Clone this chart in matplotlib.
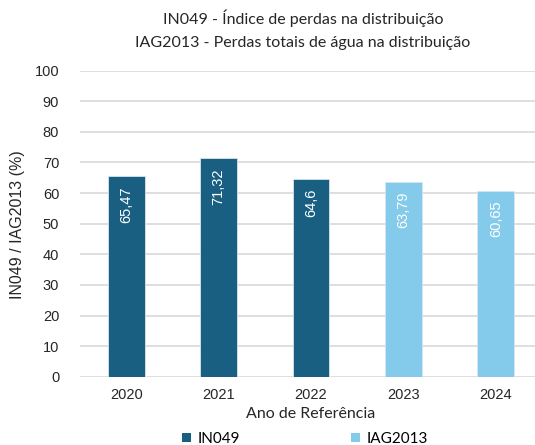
import matplotlib
matplotlib.use("Agg")
import matplotlib.pyplot as plt
from matplotlib.patches import Patch

plt.rcParams["font.family"] = ["Liberation Sans", "DejaVu Sans"]

years = ["2020", "2021", "2022", "2023", "2024"]
values = [65.47, 71.32, 64.6, 63.79, 60.65]
labels = ["65,47", "71,32", "64,6", "63,79", "60,65"]
series = ["IN049", "IN049", "IN049", "IAG2013", "IAG2013"]
colors = {"IN049": "#185F82", "IAG2013": "#84CBEB"}
yticks = [0, 10, 20, 30, 40, 50, 60, 70, 80, 90, 100]

W, H = 535, 445
fig = plt.figure(figsize=(W / 100, H / 100), dpi=100)
ax = fig.add_axes([80 / W, 68.3 / H, 462 / W, 306 / H])

x = list(range(len(years)))
ax.bar(x, values, width=0.40, color=[colors[s] for s in series],
       edgecolor="#D6E6EF", linewidth=0.6, zorder=3)
for xi, v, lab in zip(x, values, labels):
    ax.annotate(lab, (xi, v), xytext=(0, -7), textcoords="offset points",
                rotation=90, ha="center", va="top", color="white",
                fontsize=10.5, zorder=4)

ax.set_xlim(-0.5, len(years) - 0.5)
ax.set_ylim(0, 100)
ax.set_yticks(yticks)
ax.set_xticks(x)
ax.set_xticklabels(years)
ax.tick_params(length=0, labelsize=10.5, colors="#262626")
ax.tick_params(axis="x", pad=8)
ax.tick_params(axis="y", pad=15)
ax.grid(axis="y", color="#D9D9D9", linewidth=1.2, zorder=0)
for s in ax.spines.values():
    s.set_visible(False)

ax.set_xlabel("Ano de Referência", fontsize=11.5, family="Lato", color="#262626", labelpad=4)
fig.text(18 / W, 1 - 225 / H, "IN049 / IAG2013 (%)", rotation=90, ha="center", va="center",
         fontsize=11.5, color="#262626")

fig.text(303 / W, 1 - 18 / H, "IN049 - Índice de perdas na distribuição", ha="center", va="center",
         fontsize=11.5, family="Lato", color="#262626")
fig.text(303 / W, 1 - 43 / H, "IAG2013 - Perdas totais de água na distribuição", ha="center", va="center",
         fontsize=11.5, family="Lato", color="#262626")

handles = [Patch(facecolor=colors[k], edgecolor="none") for k in ["IN049", "IAG2013"]]
fig.legend(handles, ["IN049", "IAG2013"], loc="center", bbox_to_anchor=(305 / W, 1 - 439 / H),
           ncol=2, frameon=False, prop={"family": "Lato", "size": 11},
           handlelength=0.6, handleheight=0.6, handletextpad=0.4, columnspacing=7.3)

fig.savefig("out.png", dpi=100)
